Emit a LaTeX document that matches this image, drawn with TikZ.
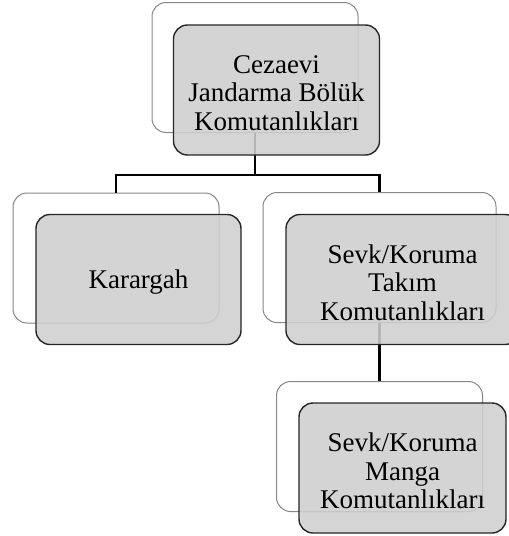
\documentclass[tikz,border=0pt]{standalone}
\usepackage{fontspec}
\setmainfont{Liberation Serif}
\begin{document}
\begin{tikzpicture}[x=1pt,y=-1pt,
  backbox/.style={draw=black!47, line width=1pt, rounded corners=14pt,
    minimum height=130pt, inner sep=0pt, fill=white},
  frontbox/.style={draw=black!85, line width=1.4pt, rounded corners=14pt,
    minimum height=130pt, inner sep=0pt, fill=black!19, fill opacity=0.88},
  boxtext/.style={align=center, inner sep=0pt, yshift=-3pt,
    font=\fontsize{27}{28.5}\selectfont},
  conn/.style={draw=black, line width=2.6pt}]
\useasboundingbox (0,0) rectangle (509,536);
\clip (0,0) rectangle (509,536);

% back (outline) boxes
\node[backbox, minimum width=206pt] (topB) at (255,67.5) {};
\node[backbox, minimum width=206pt] (karB) at (116,258) {};
\node[backbox, minimum width=233pt] (takB) at (379.5,257.5) {};
\node[backbox, minimum width=206pt] (manB) at (379.5,446.5) {};

% connectors
\coordinate (j1) at (255,175);
\draw[conn] (topB.south) -- (j1) -| (karB.north);
\draw[conn] (j1) -| (takB.north);
\draw[conn] (takB.south) -- (manB.north);

% front (filled) boxes
\node[frontbox, minimum width=206pt] (top) at (276.5,90) {};
\node[frontbox, minimum width=205pt] (kar) at (138.5,279.5) {};
\node[frontbox, minimum width=233pt] (tak) at (402.5,279.5) {};
\node[frontbox, minimum width=207pt] (man) at (402.5,468) {};

% box texts
\node[boxtext] (topT) at (top.center) {Cezaevi\\Jandarma Bölük\\Komutanlıkları};
\node[boxtext] (karT) at (kar.center) {Karargah};
\node[boxtext] (takT) at (tak.center) {Sevk/Koruma\\Takım\\Komutanlıkları};
\node[boxtext] (manT) at (man.center) {Sevk/Koruma\\Manga\\Komutanlıkları};
\end{tikzpicture}
\end{document}
